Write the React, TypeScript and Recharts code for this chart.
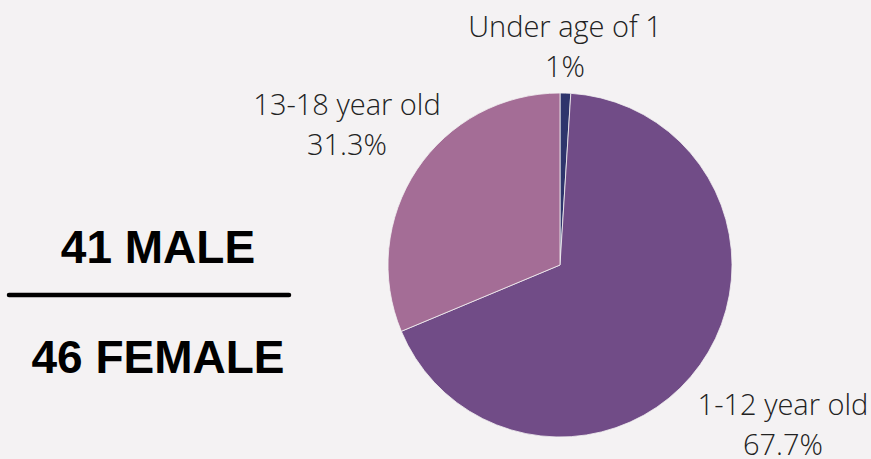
import React from "react";
import { PieChart, Pie, Cell } from "recharts";

const categories = ["Under age of 1", "1-12 year old", "13-18 year old"];
const shares = [1, 67.7, 31.3];
const shareLabels = ["1%", "67.7%", "31.3%"];
const colors = ["#2e356c", "#714c87", "#a46d96"];
const genderLines = ["41 MALE", "46 FEMALE"];

const data = categories.map((name, i) => ({ name, value: shares[i], label: shareLabels[i] }));

// label offsets relative to pie centre (baseline of first line)
const labelOffsets = [
  { dx: 5, dy: -228 },
  { dx: 223, dy: 150 },
  { dx: -213, dy: -150 },
];

const BG = "#f4f2f3";

const renderLabel = (props: any) => {
  const { cx, cy, index } = props;
  const o = labelOffsets[index];
  const x = cx + o.dx;
  const y = cy + o.dy;
  return (
    <text
      x={x}
      y={y}
      textAnchor="middle"
      fill="#222222"
      fontFamily="'Open Sans', sans-serif"
      fontWeight={300}
      fontSize={29}
    >
      <tspan x={x} y={y}>{data[index].name}</tspan>
      <tspan x={x} y={y + 40}>{data[index].label}</tspan>
    </text>
  );
};

export default function App() {
  return (
    <div style={{ position: "absolute", left: 0, top: 0, width: 871, height: 459, background: BG, overflow: "hidden" }}>
      <svg width={300} height={459} style={{ position: "absolute", left: 0, top: 0 }}>
        <text x={158} y={263} textAnchor="middle" fontFamily="'Liberation Sans', Arial, sans-serif" fontWeight={700} fontSize={46} fill="#000">
          {genderLines[0]}
        </text>
        <line x1={9} y1={295} x2={289} y2={295} stroke="#000" strokeWidth={4.5} strokeLinecap="round" />
        <text x={158} y={373} textAnchor="middle" fontFamily="'Liberation Sans', Arial, sans-serif" fontWeight={700} fontSize={46} fill="#000">
          {genderLines[1]}
        </text>
      </svg>
      <div style={{ position: "absolute", left: 0, top: 0 }}>
        <PieChart width={871} height={459} margin={{ top: 0, right: 0, bottom: 0, left: 0 }}>
          <Pie
            data={data}
            dataKey="value"
            nameKey="name"
            cx={560}
            cy={265}
            outerRadius={172}
            startAngle={90}
            endAngle={-270}
            stroke="#f4f2f3"
            strokeWidth={0.8}
            label={renderLabel}
            labelLine={false}
            isAnimationActive={false}
          >
            {data.map((d, i) => (
              <Cell key={d.name} fill={colors[i]} />
            ))}
          </Pie>
        </PieChart>
      </div>
    </div>
  );
}
